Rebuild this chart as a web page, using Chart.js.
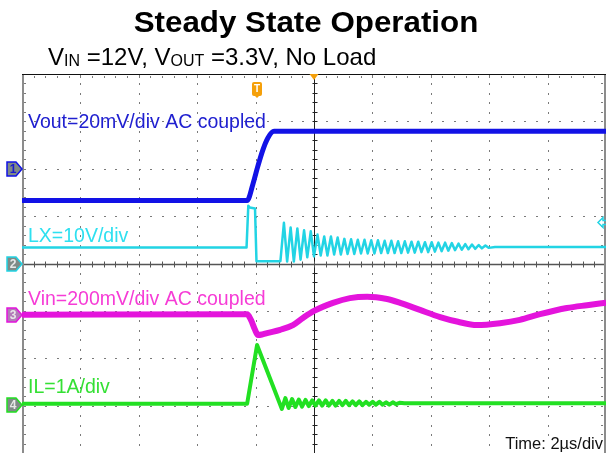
<!DOCTYPE html>
<html>
<head>
<meta charset="utf-8">
<script src="https://cdn.jsdelivr.net/npm/chart.js@4.4.0/dist/chart.umd.min.js"></script>
<style>
  html, body { margin: 0; padding: 0; background: #fff; }
  #wrap { width: 606px; height: 453px; position: relative; }
</style>
</head>
<body>
<div id="wrap"><canvas id="scope" width="606" height="453"></canvas></div>
<script>
// time in us (2us/div, 0 = centre), amplitude in screen divisions (0 = centre line)
const voutTime = [-10, -2.29, -2.09, -1.92, -1.75, -1.58, -1.37, 10];
const voutDiv  = [1.33, 1.33, 1.68, 2.06, 2.40, 2.65, 2.79, 2.79];

const lxTime = [-10, -2.31, -2.25, -2.20, -2.02, -1.97, -1.15,
  -1.03, -0.92, -0.80, -0.69, -0.57, -0.46, -0.34, -0.23, -0.11, 0.00,
  0.12, 0.23, 0.35, 0.46, 0.58, 0.69, 0.81, 0.92, 1.04, 1.15,
  1.27, 1.38, 1.50, 1.61, 1.73, 1.84, 1.96, 2.07, 2.19, 2.30,
  2.42, 2.53, 2.65, 2.76, 2.88, 2.99, 3.11, 3.22, 3.34, 3.45,
  3.57, 3.68, 3.80, 3.91, 4.03, 4.14, 4.26, 4.37, 4.49, 4.60,
  4.72, 4.83, 4.95, 5.06, 5.18, 5.29, 5.41, 5.52, 5.64, 5.75,
  5.87, 5.98, 6.20, 10];
const lxDiv = [0.34, 0.34, 1.22, 1.18, 1.16, 0.05, 0.05,
  0.86, 0.04, 0.76, 0.04, 0.74, 0.08, 0.70, 0.13, 0.68, 0.15,
  0.61, 0.17, 0.57, 0.17, 0.57, 0.19, 0.55, 0.19, 0.52, 0.20,
  0.51, 0.20, 0.50, 0.21, 0.50, 0.21, 0.49, 0.21, 0.49, 0.22,
  0.48, 0.22, 0.48, 0.22, 0.47, 0.22, 0.47, 0.23, 0.46, 0.23,
  0.46, 0.24, 0.45, 0.24, 0.45, 0.25, 0.44, 0.26, 0.44, 0.27,
  0.43, 0.28, 0.42, 0.29, 0.41, 0.30, 0.40, 0.31, 0.39, 0.32,
  0.38, 0.33, 0.35, 0.35];

const vinTime = [-10, -2.29, -2.16, -2.02, -1.92, -1.78, -1.61, -1.16, -0.72, -0.38, 0,
  0.65, 1.23, 1.82, 2.50, 2.95, 3.63, 4.32, 4.93, 5.58, 6.37, 7.05, 7.74, 8.66, 9.35, 10];
const vinDiv = [-1.08, -1.07, -1.19, -1.40, -1.51, -1.50, -1.47, -1.40, -1.30, -1.15, -1.00,
  -0.83, -0.73, -0.70, -0.75, -0.83, -0.98, -1.13, -1.23, -1.30, -1.26, -1.19, -1.07, -0.94, -0.88, -0.83];

const ilTime = [-10, -2.29, -1.95, -1.10,
  -0.98, -0.87, -0.75, -0.64, -0.52, -0.41, -0.29, -0.18, -0.06, 0.05,
  0.17, 0.28, 0.40, 0.51, 0.63, 0.74, 0.86, 0.97, 1.09, 1.20,
  1.32, 1.43, 1.55, 1.66, 1.78, 1.89, 2.01, 2.12, 2.24, 2.35,
  2.47, 2.58, 2.70, 2.81, 2.93, 3.10, 10];
const ilDiv = [-2.96, -2.96, -1.72, -3.07,
  -2.84, -3.05, -2.86, -3.03, -2.87, -3.02, -2.88, -3.01, -2.89, -3.00,
  -2.89, -3.00, -2.89, -3.00, -2.90, -3.00, -2.90, -2.99, -2.90, -2.99,
  -2.91, -2.99, -2.91, -2.99, -2.92, -2.98, -2.92, -2.98, -2.92, -2.98,
  -2.93, -2.98, -2.93, -2.97, -2.94, -2.95, -2.95];

const channelNames = ['Vout=20mV/div AC coupled', 'LX=10V/div', 'Vin=200mV/div AC coupled', 'IL=1A/div'];
const channelColors = ['#1212e6', '#22d4e4', '#e414dc', '#22e022'];
const labelColors = ['#2020d0', '#2ee0f0', '#f63cd6', '#34e034'];
const channelOffsets = [2, 0, -1.08, -2.98];
const triggerTime = -1.95;
const triggerLevel = 0.88;
const titleText = 'Steady State Operation';
const timeLabel = 'Time: 2\u00b5s/div';

function pts(xs, ys) {
  return xs.map(function (x, i) { return {x: x, y: ys[i]}; });
}

const scopeGrid = {
  id: 'scopeGrid',
  beforeDatasetsDraw: function (chart) {
    const ctx = chart.ctx;
    const xs = chart.scales.x, ys = chart.scales.y;
    const a = chart.chartArea;
    ctx.save();
    ctx.fillStyle = '#7a7a7a';
    // dotted division lines
    for (let d = -8; d <= 8; d += 2) {
      if (d === 0) continue;
      const px = Math.round(xs.getPixelForValue(d));
      for (let k = 0; k <= 40; k++) {
        ctx.fillRect(px, Math.round(ys.getPixelForValue(-4 + k * 0.2)), 1, 2);
      }
    }
    for (let v = -3; v <= 3; v++) {
      if (v === 0) continue;
      const py = Math.round(ys.getPixelForValue(v));
      for (let k = 0; k <= 50; k++) {
        ctx.fillRect(Math.round(xs.getPixelForValue(-10 + k * 0.4)), py, 2, 1);
      }
    }
    // ticks along the frame
    for (let k = 0; k <= 50; k++) {
      ctx.fillRect(Math.round(xs.getPixelForValue(-10 + k * 0.4)), a.top + 2, 1, 2);
    }
    for (let k = 0; k <= 40; k++) {
      const py = Math.round(ys.getPixelForValue(-4 + k * 0.2));
      ctx.fillRect(a.left + 2, py, 2, 1);
      ctx.fillRect(a.right - 5, py, 2, 1);
    }
    // centre cross with minor ticks
    const cx = Math.round(xs.getPixelForValue(0)) + 0.5;
    const cy = Math.round(ys.getPixelForValue(0)) + 0.5;
    ctx.strokeStyle = '#222';
    ctx.lineWidth = 1;
    ctx.beginPath();
    ctx.moveTo(cx, a.top); ctx.lineTo(cx, a.bottom);
    for (let k = 0; k <= 40; k++) {
      const py = Math.round(ys.getPixelForValue(-4 + k * 0.2)) + 0.5;
      ctx.moveTo(cx - 2, py); ctx.lineTo(cx + 3, py);
    }
    ctx.stroke();
    ctx.strokeStyle = '#555';
    ctx.lineWidth = 1.5;
    ctx.beginPath();
    ctx.moveTo(a.left, cy); ctx.lineTo(a.right, cy);
    ctx.stroke();
    ctx.lineWidth = 1;
    ctx.beginPath();
    for (let k = 0; k <= 50; k++) {
      const px = Math.round(xs.getPixelForValue(-10 + k * 0.4)) + 0.5;
      ctx.moveTo(px, cy - 3); ctx.lineTo(px, cy + 3);
    }
    ctx.stroke();
    // frame
    ctx.strokeStyle = '#8c8c8c';
    ctx.lineWidth = 2;
    ctx.beginPath();
    ctx.moveTo(a.left + 1, a.top); ctx.lineTo(a.left + 1, a.bottom);
    ctx.moveTo(a.right - 1, a.top); ctx.lineTo(a.right - 1, a.bottom);
    ctx.stroke();
    ctx.strokeStyle = '#111';
    ctx.lineWidth = 1;
    ctx.beginPath();
    ctx.moveTo(a.left, a.top + 0.5); ctx.lineTo(a.right, a.top + 0.5);
    ctx.stroke();
    ctx.restore();
  },
  afterDatasetsDraw: function (chart) {
    const ctx = chart.ctx;
    const xs = chart.scales.x, ys = chart.scales.y;
    const a = chart.chartArea;
    ctx.save();
    // channel labels
    ctx.font = '19.5px "Liberation Sans", Arial, sans-serif';
    ctx.textBaseline = 'alphabetic';
    const labelY = [127.5, 242, 305, 393];
    channelNames.forEach(function (name, i) {
      ctx.fillStyle = labelColors[i];
      ctx.fillText(name, a.left + 6, labelY[i]);
    });
    // channel ground tags
    channelOffsets.forEach(function (off, i) {
      const y = Math.round(ys.getPixelForValue(off));
      ctx.beginPath();
      ctx.moveTo(7, y - 7); ctx.lineTo(16, y - 7); ctx.lineTo(22, y);
      ctx.lineTo(16, y + 7); ctx.lineTo(7, y + 7); ctx.closePath();
      ctx.fillStyle = i === 2 ? '#b27ab8' : '#7f8a86';
      ctx.fill();
      ctx.strokeStyle = channelColors[i];
      ctx.lineWidth = 1.5;
      ctx.stroke();
      ctx.fillStyle = i === 0 ? '#1a1ad0' : '#e8e8e8';
      ctx.font = 'bold 12px "Liberation Sans", Arial, sans-serif';
      ctx.textAlign = 'center';
      ctx.textBaseline = 'middle';
      ctx.fillText(String(i + 1), 13, y + 1);
    });
    // trigger position markers
    const tx = Math.round(xs.getPixelForValue(triggerTime));
    ctx.fillStyle = '#f5a00a';
    ctx.beginPath();
    ctx.roundRect(tx - 5, a.top + 8, 10, 14, 2);
    ctx.fill();
    ctx.beginPath();
    ctx.moveTo(tx - 3, a.top + 21); ctx.lineTo(tx + 3, a.top + 21); ctx.lineTo(tx, a.top + 24);
    ctx.fill();
    ctx.fillStyle = '#fff';
    ctx.font = 'bold 10px "Liberation Sans", Arial, sans-serif';
    ctx.fillText('T', tx, a.top + 15.5);
    const cx = xs.getPixelForValue(0);
    ctx.fillStyle = '#f5a00a';
    ctx.beginPath();
    ctx.moveTo(cx - 4.5, a.top); ctx.lineTo(cx + 4.5, a.top); ctx.lineTo(cx, a.top + 6);
    ctx.fill();
    // trigger level arrow
    const ly = Math.round(ys.getPixelForValue(triggerLevel)) + 0.5;
    ctx.strokeStyle = channelColors[1];
    ctx.lineWidth = 1.5;
    ctx.beginPath();
    ctx.moveTo(a.right, ly - 2); ctx.lineTo(a.right - 3, ly - 2); ctx.lineTo(a.right - 3, ly - 5);
    ctx.lineTo(a.right - 8, ly); ctx.lineTo(a.right - 3, ly + 5); ctx.lineTo(a.right - 3, ly + 2);
    ctx.lineTo(a.right, ly + 2);
    ctx.stroke();
    // time base
    ctx.font = '16.5px "Liberation Sans", Arial, sans-serif';
    ctx.textAlign = 'right';
    ctx.textBaseline = 'alphabetic';
    const tw = ctx.measureText(timeLabel).width;
    ctx.fillStyle = '#fff';
    ctx.fillRect(a.right - 5 - tw, a.bottom - 17, tw + 3, 17);
    ctx.fillStyle = '#111';
    ctx.fillText(timeLabel, a.right - 3, a.bottom - 4);
    ctx.restore();
  },
  afterDraw: function (chart) {
    const ctx = chart.ctx;
    ctx.save();
    ctx.fillStyle = '#000';
    ctx.textBaseline = 'alphabetic';
    ctx.textAlign = 'center';
    ctx.font = 'bold 29px "Liberation Sans", Arial, sans-serif';
    ctx.translate(306, 32);
    ctx.scale(1.08, 1);
    ctx.fillText(titleText, 0, 0);
    ctx.setTransform(1, 0, 0, 1, 0, 0);
    // subtitle with subscripts
    ctx.textAlign = 'left';
    const parts = [['V', 24], ['IN', 16], [' =12V, V', 24], ['OUT', 16], [' =3.3V, No Load', 24]];
    let x = 48;
    parts.forEach(function (p) {
      ctx.font = p[1] + 'px "Liberation Sans", Arial, sans-serif';
      ctx.fillText(p[0], x, p[1] === 24 ? 65 : 66);
      x += ctx.measureText(p[0]).width;
    });
    ctx.restore();
  }
};

const traces = [
  {name: 'Vout', data: pts(voutTime, voutDiv), width: 5, smooth: true},
  {name: 'LX', data: pts(lxTime, lxDiv), width: 2.5, smooth: false},
  {name: 'Vin', data: pts(vinTime, vinDiv), width: 6, smooth: true},
  {name: 'IL', data: pts(ilTime, ilDiv), width: 4, smooth: false}
];

new Chart(document.getElementById('scope'), {
  type: 'line',
  data: {
    datasets: traces.map(function (t, i) {
      return {
        label: t.name,
        data: t.data,
        borderColor: channelColors[i],
        borderWidth: t.width,
        pointRadius: 0,
        fill: false,
        tension: 0,
        cubicInterpolationMode: t.smooth ? 'monotone' : 'default',
        borderJoinStyle: 'round'
      };
    })
  },
  options: {
    responsive: false,
    devicePixelRatio: 1,
    animation: false,
    layout: {padding: {left: 22, top: 74, right: 0, bottom: 0}},
    scales: {
      x: {type: 'linear', min: -10, max: 10, display: false},
      y: {type: 'linear', min: -4, max: 4, display: false}
    },
    plugins: {legend: {display: false}, tooltip: {enabled: false}}
  },
  plugins: [scopeGrid]
});
</script>
</body>
</html>
